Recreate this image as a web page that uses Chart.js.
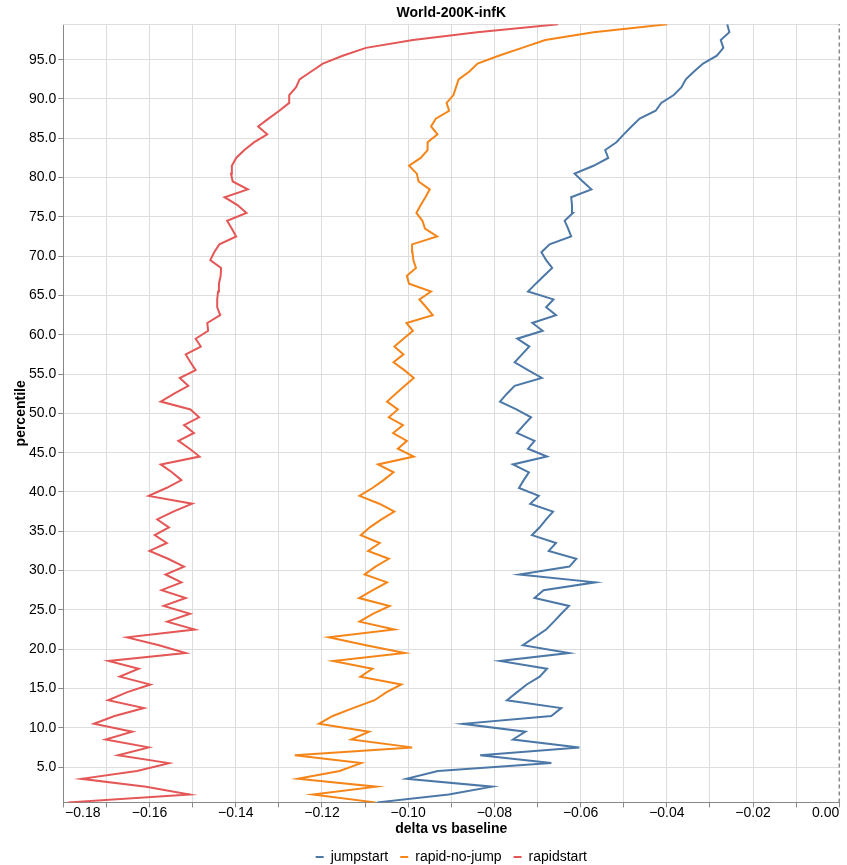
<!DOCTYPE html>
<html>
<head>
<meta charset="utf-8">
<title>World-200K-infK</title>
<script src="https://cdn.jsdelivr.net/npm/chart.js@4/dist/chart.umd.min.js"></script>
<style>
  html, body { margin: 0; padding: 0; background: #fff; }
  #chart { display: block; }
</style>
</head>
<body>
<canvas id="chart" width="847" height="865"></canvas>
<script>
// Percentile positions shared by every series (bucket centres).
const percentiles = [
  0.5, 1.5, 2.5, 3.5, 4.5, 5.5, 6.5, 7.5, 8.5, 9.5,
  10.5, 11.5, 12.5, 13.5, 14.5, 15.5, 16.5, 17.5, 18.5, 19.5,
  20.5, 21.5, 22.5, 23.5, 24.5, 25.5, 26.5, 27.5, 28.5, 29.5,
  30.5, 31.5, 32.5, 33.5, 34.5, 35.5, 36.5, 37.5, 38.5, 39.5,
  40.5, 41.5, 42.5, 43.5, 44.5, 45.5, 46.5, 47.5, 48.5, 49.5,
  50.5, 51.5, 52.5, 53.5, 54.5, 55.5, 56.5, 57.5, 58.5, 59.5,
  60.5, 61.5, 62.5, 63.5, 64.5, 65.5, 66.5, 67.5, 68.5, 69.5,
  70.5, 71.5, 72.5, 73.5, 74.5, 75.5, 76.5, 77.5, 78.5, 79.5,
  80.5, 81.5, 82.5, 83.5, 84.5, 85.5, 86.5, 87.5, 88.5, 89.5,
  90.5, 91.5, 92.5, 93.5, 94.5, 95.5, 96.5, 97.5, 98.5, 99.5
];

// Delta vs baseline at each percentile.
const jumpstart = [
  -0.1072, -0.0906, -0.0805, -0.1004, -0.0931, -0.0668, -0.0833, -0.0603, -0.0757, -0.0728,
  -0.0873, -0.0668, -0.0645, -0.0771, -0.0748, -0.0725, -0.0695, -0.0678, -0.0787, -0.0627,
  -0.0734, -0.0707, -0.0680, -0.0662, -0.0645, -0.0627, -0.0707, -0.0686, -0.0566, -0.0742,
  -0.0626, -0.0610, -0.0674, -0.0657, -0.0713, -0.0695, -0.0680, -0.0664, -0.0717, -0.0697,
  -0.0743, -0.0732, -0.0720, -0.0757, -0.0678, -0.0722, -0.0707, -0.0748, -0.0732, -0.0715,
  -0.0749, -0.0787, -0.0771, -0.0753, -0.0690, -0.0722, -0.0753, -0.0736, -0.0719, -0.0747,
  -0.0688, -0.0712, -0.0657, -0.0680, -0.0663, -0.0722, -0.0704, -0.0685, -0.0666, -0.0680,
  -0.0691, -0.0672, -0.0622, -0.0629, -0.0637, -0.0618, -0.0620, -0.0622, -0.0575, -0.0595,
  -0.0614, -0.0570, -0.0536, -0.0543, -0.0517, -0.0500, -0.0482, -0.0463, -0.0426, -0.0413,
  -0.0384, -0.0366, -0.0356, -0.0337, -0.0316, -0.0284, -0.0269, -0.0275, -0.0255, -0.0260
];

const rapidNoJump = [
  -0.1076, -0.1221, -0.1074, -0.1256, -0.1159, -0.1109, -0.1263, -0.0991, -0.1132, -0.1091,
  -0.1207, -0.1175, -0.1128, -0.1078, -0.1051, -0.1016, -0.1111, -0.1083, -0.1174, -0.1008,
  -0.1098, -0.1184, -0.1032, -0.1113, -0.1082, -0.1043, -0.1114, -0.1082, -0.1049, -0.1101,
  -0.1076, -0.1045, -0.1093, -0.1066, -0.1110, -0.1089, -0.1062, -0.1032, -0.1067, -0.1113,
  -0.1083, -0.1057, -0.1034, -0.1070, -0.0987, -0.1024, -0.1003, -0.1035, -0.1012, -0.1045,
  -0.1024, -0.1049, -0.1029, -0.1008, -0.0987, -0.1009, -0.1034, -0.1011, -0.1032, -0.1011,
  -0.0989, -0.1004, -0.0943, -0.0958, -0.0974, -0.0947, -0.0998, -0.1003, -0.0982, -0.0988,
  -0.0990, -0.0991, -0.0933, -0.0961, -0.0967, -0.0981, -0.0971, -0.0960, -0.0950, -0.0976,
  -0.0980, -0.0998, -0.0971, -0.0955, -0.0955, -0.0932, -0.0947, -0.0936, -0.0905, -0.0911,
  -0.0895, -0.0889, -0.0883, -0.0858, -0.0839, -0.0790, -0.0736, -0.0682, -0.0570, -0.0399
];

const rapidstart = [
  -0.1789, -0.1507, -0.1608, -0.1758, -0.1629, -0.1555, -0.1673, -0.1602, -0.1702, -0.1640,
  -0.1729, -0.1681, -0.1613, -0.1696, -0.1653, -0.1598, -0.1669, -0.1625, -0.1695, -0.1516,
  -0.1578, -0.1652, -0.1495, -0.1559, -0.1506, -0.1567, -0.1516, -0.1572, -0.1526, -0.1563,
  -0.1520, -0.1557, -0.1600, -0.1560, -0.1588, -0.1555, -0.1582, -0.1545, -0.1501, -0.1602,
  -0.1561, -0.1526, -0.1548, -0.1574, -0.1484, -0.1507, -0.1533, -0.1497, -0.1520, -0.1485,
  -0.1505, -0.1574, -0.1543, -0.1510, -0.1530, -0.1493, -0.1505, -0.1516, -0.1481, -0.1493,
  -0.1464, -0.1466, -0.1436, -0.1443, -0.1443, -0.1441, -0.1439, -0.1435, -0.1434, -0.1459,
  -0.1450, -0.1438, -0.1399, -0.1409, -0.1420, -0.1375, -0.1396, -0.1426, -0.1372, -0.1407,
  -0.1411, -0.1409, -0.1399, -0.1380, -0.1357, -0.1327, -0.1348, -0.1324, -0.1299, -0.1276,
  -0.1276, -0.1260, -0.1252, -0.1225, -0.1198, -0.1152, -0.1098, -0.0989, -0.0840, -0.0652
];

const seriesNames = ['jumpstart', 'rapid-no-jump', 'rapidstart'];
const seriesValues = [jumpstart, rapidNoJump, rapidstart];
const seriesColors = ['#4c78a8', '#f58518', '#e45756'];

// Axis ticks and domains.
const xTickValues = [
  -0.18, -0.17, -0.16, -0.15, -0.14, -0.13, -0.12, -0.11, -0.10, -0.09,
  -0.08, -0.07, -0.06, -0.05, -0.04, -0.03, -0.02, -0.01, 0.00
];
const yTickValues = [5, 10, 15, 20, 25, 30, 35, 40, 45, 50, 55, 60, 65, 70, 75, 80, 85, 90, 95];
const xDomain = [-0.18, 0];
const yDomain = [0.5, 99.5];
const baselineDelta = 0;

const FONT = '"Liberation Sans", Arial, Helvetica, sans-serif';
Chart.defaults.font.family = FONT;
Chart.defaults.color = '#000';

// Labels every 0.02, first and last flush with the axis ends.
function xLabel(value, index, count) {
  const hundredths = Math.round(value * 100);
  if (hundredths % 2 !== 0) return '';
  const text = (hundredths < 0 ? '\u2212' : '') + (Math.abs(hundredths) / 100).toFixed(2);
  if (index === 0) return ' '.repeat(10) + text;
  if (index === count - 1) return text + ' '.repeat(7);
  return text;
}

const datasets = seriesValues.map((values, i) => ({
  label: seriesNames[i],
  data: values.map((v, k) => ({ x: v, y: percentiles[k] })),
  borderColor: seriesColors[i],
  backgroundColor: seriesColors[i],
  borderWidth: 2,
  showLine: true,
  pointRadius: 0,
  pointHoverRadius: 0,
  tension: 0,
  fill: false,
  xAxisID: 'x',
  yAxisID: 'y'
}));

// Dashed rule at zero delta.
datasets.push({
  label: 'zero',
  data: yDomain.map(y => ({ x: baselineDelta, y })),
  borderColor: '#888',
  borderWidth: 1.5,
  borderDash: [4, 3],
  showLine: true,
  pointRadius: 0,
  pointHoverRadius: 0,
  clip: false,
  xAxisID: 'x',
  yAxisID: 'y'
});

const tickFont = { family: FONT, size: 14, lineHeight: 1 };
const titleFont = { family: FONT, size: 14, weight: 'bold', lineHeight: 1.2 };

new Chart(document.getElementById('chart'), {
  type: 'scatter',
  data: { datasets },
  options: {
    responsive: false,
    animation: false,
    devicePixelRatio: 1,
    events: [],
    layout: { padding: { left: 0, right: 7.7, top: 0, bottom: -9 } },
    plugins: {
      title: {
        display: true,
        text: 'World-200K-infK',
        fullSize: false,
        color: '#000',
        font: titleFont,
        padding: { top: 5, bottom: 2.5 }
      },
      legend: {
        display: true,
        position: 'bottom',
        fullSize: false,
        labels: {
          filter: item => item.datasetIndex < seriesNames.length,
          usePointStyle: true,
          pointStyle: 'line',
          pointStyleWidth: 8,
          boxHeight: 8,
          padding: 12,
          color: '#000',
          font: { family: FONT, size: 14 }
        }
      },
      tooltip: { enabled: false }
    },
    scales: {
      x: {
        type: 'linear',
        position: 'bottom',
        min: xDomain[0],
        max: xDomain[1],
        afterBuildTicks: s => { s.ticks = xTickValues.map(v => ({ value: v })); },
        afterFit: s => { s.height = 35.6; s.paddingLeft = 0; s.paddingRight = 0; },
        ticks: {
          autoSkip: false,
          maxRotation: 0,
          minRotation: 0,
          padding: -1,
          color: '#000',
          font: tickFont,
          callback: (v, i, ticks) => xLabel(v, i, ticks.length)
        },
        grid: {
          color: c => (c.tick && Math.abs(c.tick.value) < 1e-9) ? 'rgba(0,0,0,0)' : '#dddddd',
          lineWidth: 1,
          tickColor: '#888',
          tickLength: 5
        },
        border: { display: true, color: '#888', width: 1 },
        title: {
          display: true,
          text: 'delta vs baseline',
          color: '#000',
          font: titleFont,
          padding: { top: 0, bottom: 0 }
        }
      },
      y: {
        type: 'linear',
        position: 'left',
        min: yDomain[0],
        max: yDomain[1],
        afterBuildTicks: s => { s.ticks = yTickValues.map(v => ({ value: v })); },
        afterFit: s => { s.width = 63.3; s.paddingTop = 0; s.paddingBottom = 0; },
        ticks: {
          autoSkip: false,
          padding: 2,
          color: '#000',
          font: tickFont,
          callback: v => v.toFixed(1)
        },
        grid: { color: '#dddddd', lineWidth: 1, tickColor: '#888', tickLength: 5 },
        border: { display: true, color: '#888', width: 1 },
        title: {
          display: true,
          text: 'percentile',
          color: '#000',
          font: titleFont,
          padding: { top: 12.6, bottom: 0 }
        }
      },
      xTop: {
        type: 'linear',
        position: 'top',
        min: xDomain[0],
        max: xDomain[1],
        grid: { display: false, drawTicks: false },
        ticks: { display: false },
        border: { display: true, color: '#dddddd', width: 1 },
        afterFit: s => { s.height = 0; s.paddingLeft = 0; s.paddingRight = 0; }
      }
    }
  }
});
</script>
</body>
</html>
